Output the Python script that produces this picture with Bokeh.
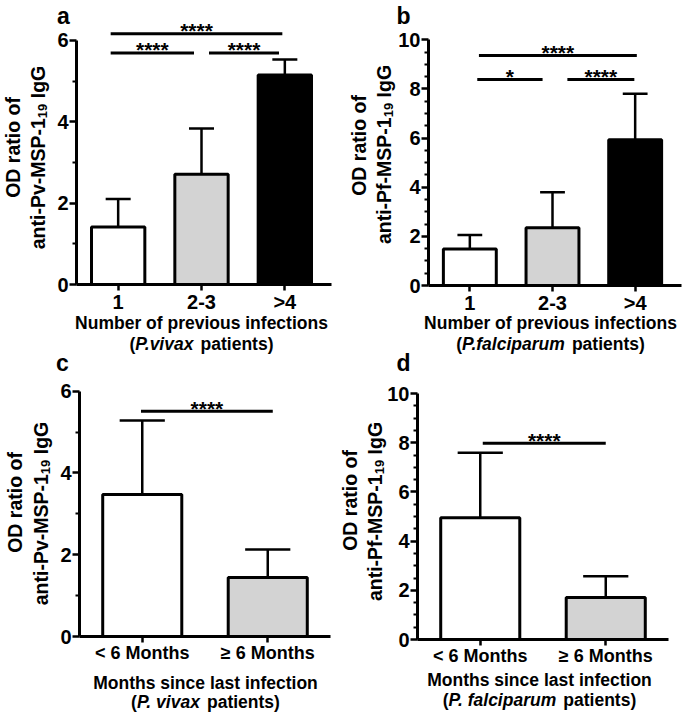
import math
from bokeh.plotting import figure
from bokeh.models import FixedTicker, Range1d, ColumnDataSource, LinearAxis
from bokeh.embed import file_html
from bokeh.resources import INLINE
from bokeh.core.properties import value

# ---------------- data ----------------
cats_ab = ["1", "2-3", ">4"]
cats_cd = ["< 6 Months", "\u2265 6 Months"]

a_mean = [1.41, 2.71, 5.15]
a_sd = [0.69, 1.12, 0.38]
b_mean = [1.49, 2.35, 5.93]
b_sd = [0.57, 1.45, 1.87]
c_mean = [3.47, 1.44]
c_sd = [1.81, 0.69]
d_mean = [4.95, 1.71]
d_sd = [2.64, 0.86]

colors_ab = ["white", "#d3d3d3", "black"]
colors_cd = ["white", "#d3d3d3"]

# significance brackets (start, end, height, label)
a_sig_x0 = [0.91, 0.91, 2.09]
a_sig_x1 = [2.97, 1.91, 2.93]
a_sig_y = [6.16, 5.69, 5.69]
a_sig_txt = ["****", "****", "****"]

b_sig_x0 = [1.11, 1.09, 2.18]
b_sig_x1 = [3.02, 1.88, 2.99]
b_sig_y = [9.36, 8.38, 8.38]
b_sig_txt = ["****", "*", "****"]

c_sig_x0 = [0.99]
c_sig_x1 = [2.04]
c_sig_y = [5.51]
c_sig_txt = ["****"]

d_sig_x0 = [1.02]
d_sig_x1 = [2.0]
d_sig_y = [7.98]
d_sig_txt = ["****"]

FONT = "Liberation Sans"
W, H = 685, 715
BASE_FIX = 6  # px: rendered alphabetic baseline sits this much lower than requested

# Arial/Liberation Sans Bold advance widths (1/1000 em), used to place mixed-style title pieces
ADV = {'(': 333, ')': 333, 'P': 667, '.': 278, 'v': 556, 'i': 278, 'a': 556, 'x': 556,
       ' ': 278, 'p': 611, 't': 333, 'e': 556, 'n': 611, 's': 556, 'f': 333, 'l': 278,
       'c': 556, 'r': 389, 'u': 611, 'm': 889, '-': 333, 'M': 833, 'S': 667, '1': 556,
       '9': 556, 'I': 278, 'g': 611, 'G': 778}


def twidth(s, size):
    return sum(ADV.get(ch, 556) for ch in s) / 1000.0 * size


# one canvas; default ranges are page pixels (y measured upward)
p = figure(width=W, height=H, output_backend="svg", toolbar_location=None,
           x_range=Range1d(0, W), y_range=Range1d(0, H), min_border=0,
           x_axis_type=None, y_axis_type=None)
p.grid.visible = False
p.outline_line_color = None
p.background_fill_color = "white"
p.border_fill_color = "white"


def txt(px, py, s, size, style="bold", align="center", baseline="alphabetic", angle=0.0):
    if baseline == "alphabetic":
        py = py - BASE_FIX
    p.text(x=[px], y=[H - py], text=[s], angle=angle, text_align=align, text_baseline=baseline,
           text_font=value(FONT), text_font_style=style, text_font_size=size,
           text_color="black")


def make_panel(name, letter, frame, ncat, xbound, ymax_axis, major, minor,
               xs, cats, mean, sd, colors, bar_w, cap_h,
               sx0, sx1, sy, stxt,
               yt_main, ytitle_pos, xtitle1, species, xtitle_pos, letter_pos,
               xtick_size, ytick_size):
    fl, fr, fb, ppy = frame          # page pixels: left of x-range, right, y=0 line, px per y-unit
    ppx = (fr - fl) / ncat
    p.extra_x_ranges[name] = Range1d(0.5 - fl / ppx, 0.5 + (W - fl) / ppx)
    p.extra_y_ranges[name] = Range1d(-(H - fb) / ppy, fb / ppy)
    rn = dict(x_range_name=name, y_range_name=name)

    # bars and error bars
    src = ColumnDataSource(dict(x=xs, top=mean, color=colors))
    p.vbar(x="x", top="top", bottom=0, width=bar_w, source=src,
           fill_color="color", line_color="black", line_width=3, **rn)
    upper = [m + s for m, s in zip(mean, sd)]
    p.segment(x0=xs, y0=mean, x1=xs, y1=upper, line_color="black", line_width=2.5, **rn)
    p.segment(x0=[x - cap_h for x in xs], y0=upper, x1=[x + cap_h for x in xs], y1=upper,
              line_color="black", line_width=2.5, **rn)

    # significance brackets
    p.segment(x0=sx0, y0=sy, x1=sx1, y1=sy, line_color="black", line_width=3, **rn)
    mids = [(a + b) / 2 for a, b in zip(sx0, sx1)]
    lift = 3.0 / ppy
    p.text(x=mids, y=[v + lift for v in sy], text=stxt, text_align="center",
           text_baseline="alphabetic", text_font=value(FONT), text_font_style="bold",
           text_font_size="21px", text_color="black", **rn)

    # axes at fixed data locations
    yax = LinearAxis(fixed_location=0.5, bounds=(0, ymax_axis),
                     ticker=FixedTicker(ticks=major, minor_ticks=minor), **rn)
    yax.axis_line_width = 3
    yax.major_tick_line_width = 2.5
    yax.minor_tick_line_width = 2
    yax.major_tick_in = 0
    yax.major_tick_out = 7
    yax.minor_tick_in = 0
    yax.minor_tick_out = 4
    yax.major_label_standoff = 1
    yax.major_label_text_font = FONT
    yax.major_label_text_font_style = "bold"
    yax.major_label_text_font_size = ytick_size
    yax.major_label_text_color = "black"
    p.add_layout(yax, "left")

    xax = LinearAxis(fixed_location=0, bounds=(0.5, xbound),
                     ticker=FixedTicker(ticks=xs, minor_ticks=[]), **rn)
    xax.major_label_overrides = {x: c for x, c in zip(xs, cats)}
    xax.axis_line_width = 3
    xax.major_tick_line_width = 2.5
    xax.major_tick_in = 0
    xax.major_tick_out = 6
    xax.minor_tick_line_color = None
    xax.major_label_standoff = 0
    xax.major_label_text_font = FONT
    xax.major_label_text_font_style = "bold"
    xax.major_label_text_font_size = xtick_size
    xax.major_label_text_color = "black"
    p.add_layout(xax, "below")

    # y-axis title: two rotated lines, second with a real subscript
    (l1x, l1y), (l2x, l2y) = ytitle_pos
    up = math.pi / 2
    txt(l1x, l1y, "OD ratio of", "19.5px", baseline="middle", angle=up)
    big, small = 19.5, 13.0
    pieces = [(yt_main, big, 0), ("19", small, 5), (" ", big, None), ("IgG", big, 0)]
    total = sum(twidth(s, sz) for s, sz, _ in pieces)
    yy = l2y + total / 2          # text runs upward from here
    for s, sz, shift in pieces:
        if shift is not None:
            txt(l2x + shift, yy, s, f"{sz}px", align="left", baseline="middle", angle=up)
        yy -= twidth(s, sz)

    # x-axis title: plain first line, mixed italic second line
    cx, b1, b2 = xtitle_pos
    size = 17.5
    txt(cx, b1, xtitle1, "17.5px")
    parts = [("(", "bold"), (species, "bold italic"), (" ", None), ("patients)", "bold")]
    total = sum(twidth(s, size) for s, _ in parts)
    x = cx - total / 2
    for s, style in parts:
        if style is not None:
            txt(x, b2, s, "17.5px", style=style, align="left")
        x += twidth(s, size)

    # panel letter
    txt(letter_pos[0], letter_pos[1], letter, "23px")


minor_ab = [1, 3, 5]
minor_10 = [0.5 * k for k in range(21) if k % 4 != 0]

make_panel("a", "a", (76, 326, 284, 40.7), 3, 3.56, 6,
           [0, 2, 4, 6], minor_ab,
           [1, 2, 3], cats_ab, a_mean, a_sd, colors_ab, 0.64, 0.15,
           a_sig_x0, a_sig_x1, a_sig_y, a_sig_txt,
           "anti-Pv-MSP-1", ((12, 147), (37, 157)),
           "Number of previous infections", "P.vivax", (201, 328, 349), (63, 21),
           "20px", "20px")

make_panel("b", "b", (428, 676, 285, 24.57), 3, 3.56, 10,
           [0, 2, 4, 6, 8, 10], minor_10,
           [1, 2, 3], cats_ab, b_mean, b_sd, colors_ab, 0.64, 0.15,
           b_sig_x0, b_sig_x1, b_sig_y, b_sig_txt,
           "anti-Pf-MSP-1", ((358, 145), (383, 154)),
           "Number of previous infections", "P.falciparum", (550, 328, 349), (403, 21),
           "20px", "20px")

make_panel("c", "c", (79, 330, 636, 40.9), 2, 2.5, 6,
           [0, 2, 4, 6], minor_ab,
           [1, 2], cats_cd, c_mean, c_sd, colors_cd, 0.63, 0.18,
           c_sig_x0, c_sig_x1, c_sig_y, c_sig_txt,
           "anti-Pv-MSP-1", ((14, 502), (40, 513)),
           "Months since last infection", "P. vivax", (205, 688, 707), (62, 368),
           "18px", "20px")

make_panel("d", "d", (417, 668, 639, 24.6), 2, 2.5, 10,
           [0, 2, 4, 6, 8, 10], minor_10,
           [1, 2], cats_cd, d_mean, d_sd, colors_cd, 0.63, 0.18,
           d_sig_x0, d_sig_x1, d_sig_y, d_sig_txt,
           "anti-Pf-MSP-1", ((349, 500), (374, 511)),
           "Months since last infection", "P. falciparum", (539, 685, 705), (403, 368),
           "18px", "20px")

open("out.html", "w").write(file_html(p, INLINE))
